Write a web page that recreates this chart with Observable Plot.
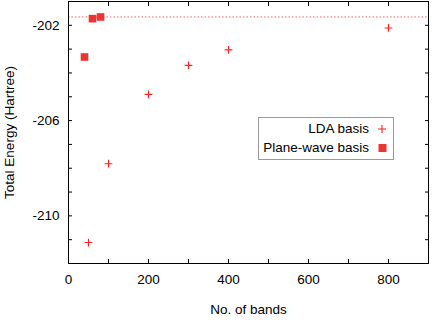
<!DOCTYPE html>
<html>
<head>
<meta charset="utf-8">
<script src="https://cdn.jsdelivr.net/npm/d3@7"></script>
<script src="https://cdn.jsdelivr.net/npm/@observablehq/plot@0.6"></script>
<style>
  html, body { margin: 0; padding: 0; background: #fff; }
  #wrap { position: relative; width: 436px; height: 325px; font-family: "Liberation Sans", Arial, sans-serif; }
  #legend { position: absolute; left: 258px; top: 117px; width: 134px; height: 41px; border: 1px solid #9a9a9a; background: #fff; font-size: 13.5px; color: #000; }
  .row { position: absolute; right: 24px; white-space: nowrap; line-height: 16px; }
  .sym { position: absolute; }
</style>
</head>
<body>
<div id="wrap"></div>
<script>
const ldaBands = [50, 100, 200, 300, 400, 800];
const ldaEnergy = [-211.12, -207.81, -204.9, -203.68, -203.03, -202.11];
const pwBands = [40, 60, 80];
const pwEnergy = [-203.33, -201.72, -201.65];
const referenceEnergy = -201.65;
const xTickLabels = [0, 200, 400, 600, 800];
const yTickLabels = [-202, -206, -210];
const xTicksMinor = d3.range(0, 901, 100);
const yTicksMinor = d3.range(-212, -200, 1);
const seriesNames = ["LDA basis", "Plane-wave basis"];

const lda = ldaBands.map((b, i) => ({bands: b, energy: ldaEnergy[i]}));
const pw = pwBands.map((b, i) => ({bands: b, energy: pwEnergy[i]}));

const red = "#ff2020";
const sqRed = "#ee3333";
const fmt = d => String(d);

const chart = Plot.plot({
  width: 436,
  height: 325,
  marginLeft: 68,
  marginRight: 8,
  marginTop: 1,
  marginBottom: 62,
  style: {fontFamily: "Liberation Sans, Arial, sans-serif", fontSize: "13.5px", color: "#000", background: "#fff"},
  x: {domain: [0, 900]},
  y: {domain: [-212, -201]},
  marks: [
    Plot.ruleY([referenceEnergy], {stroke: "#ff6060", strokeWidth: 1, strokeDasharray: "1.5,2"}),
    Plot.axisX(xTicksMinor, {anchor: "bottom", tickSize: -4, text: null, label: null}),
    Plot.axisX(xTicksMinor, {anchor: "top", tickSize: -4, text: null, label: null}),
    Plot.axisY(yTicksMinor, {anchor: "left", tickSize: -4, text: null, label: null}),
    Plot.axisY(yTicksMinor, {anchor: "right", tickSize: -4, text: null, label: null}),
    Plot.axisX(xTickLabels, {anchor: "bottom", tickSize: 0, tickPadding: 11, tickFormat: fmt, label: "No. of bands", labelAnchor: "center", labelOffset: 50, labelArrow: "none", fontSize: 13.5}),
    Plot.axisY(yTickLabels, {anchor: "left", tickSize: 0, tickPadding: 9, tickFormat: fmt, label: "Total Energy (Hartree)", labelAnchor: "center", labelOffset: 64, labelArrow: "none", fontSize: 13.5}),
    Plot.frame({stroke: "#000", strokeWidth: 1}),
    Plot.dot(lda, {x: "bands", y: "energy", symbol: "plus", r: 2.6, stroke: red, strokeWidth: 1.1}),
    Plot.dot(pw, {x: "bands", y: "energy", symbol: "square", r: 4.3, fill: sqRed, stroke: "none"})
  ]
});

const wrap = document.getElementById("wrap");
wrap.appendChild(chart);

const legend = document.createElement("div");
legend.id = "legend";
legend.innerHTML = `
  <div class="row" style="top:3px">${seriesNames[0]}</div>
  <div class="row" style="top:22px">${seriesNames[1]}</div>
  <svg class="sym" style="left:118px;top:6px" width="10" height="10"><path d="M1,5H9M5,1V9" stroke="${red}" stroke-width="1.1"/></svg>
  <svg class="sym" style="left:119px;top:25px" width="10" height="10"><rect x="0.5" y="1" width="8" height="8" fill="${sqRed}"/></svg>
`;
wrap.appendChild(legend);
</script>
</body>
</html>
